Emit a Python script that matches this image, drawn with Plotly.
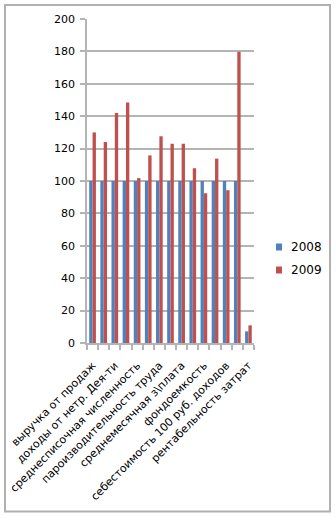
import plotly.graph_objects as go

labels = [
    "выручка от продаж",
    "доходы от нетр. Дея-ти",
    "среднесписочная численность",
    "пароизводительность труда",
    "среднемесячная з\\плата",
    "фондоемкость",
    "себестоимость 100 руб. доходов",
    "рентабельность затрат",
]
positions = list(range(15))
label_positions = positions[::2]

series_names = ["2008", "2009"]
series_colors = ["#4F81BD", "#C0504D"]
v2008 = [100, 100, 100, 100, 100, 100, 100, 100, 100, 100, 100, 100, 100, 100, 7.2]
v2009 = [130, 124, 142, 148.4, 101.8, 115.8, 127.6, 123, 123, 107.8, 92.4, 113.8, 94.3, 179.8, 10.9]

font = dict(family="DejaVu Sans", size=11, color="#000000")
grid = "#b4b4b4"

L, R, T, B = 87, 254, 19, 343
W, H = 336, 518
pw, ph = R - L, B - T

def px(x):
    return (x - L) / pw

def py(y):
    return (B - y) / ph

fig = go.Figure()
for name, vals, col in zip(series_names, [v2008, v2009], series_colors):
    fig.add_trace(go.Bar(x=positions, y=vals, name=name,
                         marker=dict(color=col, line=dict(width=0)), showlegend=False))

shapes = [dict(type="rect", xref="paper", yref="paper",
               x0=px(5), x1=px(330), y0=py(511.5), y1=py(5),
               line=dict(color="#b0b0b0", width=2), fillcolor="rgba(0,0,0,0)", layer="below")]
annotations = []
legend_y = [247, 270]
for name, col, ly in zip(series_names, series_colors, legend_y):
    shapes.append(dict(type="rect", xref="paper", yref="paper",
                       x0=px(276), x1=px(282), y0=py(ly + 3.5), y1=py(ly - 3.5),
                       line=dict(width=0), fillcolor=col))
    annotations.append(dict(text=name, xref="paper", yref="paper", x=px(289), y=py(ly),
                            xanchor="left", yanchor="middle", showarrow=False,
                            font=dict(family="DejaVu Sans", size=12, color="#000")))

fig.update_layout(
    width=W, height=H,
    margin=dict(l=L, r=W - R, t=T, b=H - B),
    paper_bgcolor="white", plot_bgcolor="white",
    font=font,
    barmode="group", bargap=0.4, bargroupgap=0,
    showlegend=False,
    xaxis=dict(
        range=[-0.5, 14.5], tickmode="array", tickvals=label_positions, ticktext=labels,
        tickangle=-45, ticks="", showgrid=False, zeroline=False, automargin=False,
        ticklabelstandoff=10,
        showline=True, linecolor=grid, linewidth=1.5,
        minor=dict(tickmode="array", tickvals=[p - 0.5 for p in positions] + [14.5],
                   ticks="outside", ticklen=5, tickcolor=grid, tickwidth=1.5, showgrid=False),
        tickfont=font, fixedrange=True,
    ),
    yaxis=dict(
        range=[0, 200], dtick=20, tick0=0, ticks="outside", ticklen=5, tickcolor=grid, tickwidth=1.5,
        showgrid=True, gridcolor=grid, gridwidth=1.5, zeroline=False, automargin=False,
        ticklabelstandoff=3,
        showline=True, linecolor=grid, linewidth=1.5, tickfont=font, fixedrange=True,
    ),
    shapes=shapes,
    annotations=annotations,
)

fig.write_html("out.html")
